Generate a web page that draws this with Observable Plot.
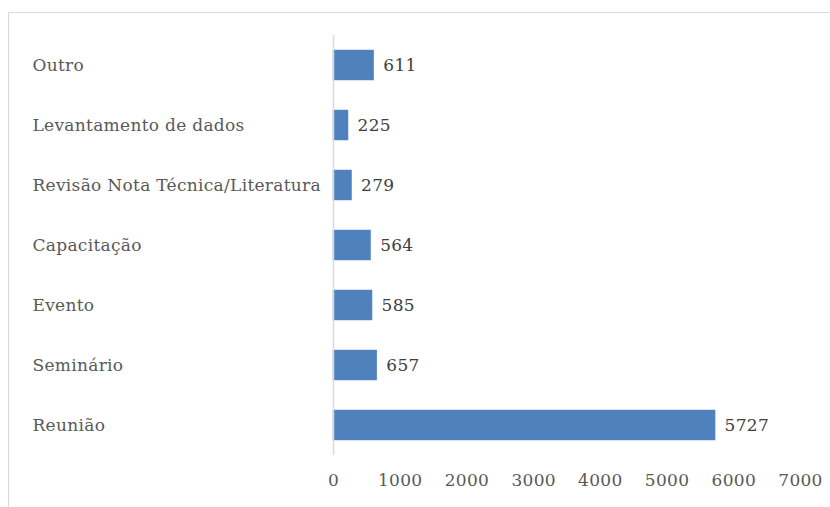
<!DOCTYPE html>
<html>
<head>
<meta charset="utf-8">
<script src="https://cdn.jsdelivr.net/npm/d3@7"></script>
<script src="https://cdn.jsdelivr.net/npm/@observablehq/plot@0.6"></script>
<style>
html, body { margin: 0; padding: 0; background: #fff; }
#wrap { position: relative; width: 830px; height: 507px; overflow: hidden; }
#frame { position: absolute; left: 8px; top: 12px; width: 830px; height: 520px; border: 1px solid #d9d9d9; box-sizing: border-box; }
#chart { position: absolute; left: 0; top: 0; }
#chart text { letter-spacing: 0.3px; }
</style>
</head>
<body>
<div id="wrap"><div id="frame"></div><div id="chart"></div></div>
<script>
const categories = ["Outro", "Levantamento de dados", "Revisão Nota Técnica/Literatura", "Capacitação", "Evento", "Seminário", "Reunião"];
const values = [611, 225, 279, 564, 585, 657, 5727];
const xTicks = [0, 1000, 2000, 3000, 4000, 5000, 6000, 7000];

const data = categories.map((c, i) => ({category: c, value: values[i]}));
const font = "'DejaVu Serif', serif";

const chart = Plot.plot({
  width: 830,
  height: 507,
  marginLeft: 333,
  marginRight: 30,
  marginTop: 35,
  marginBottom: 52,
  style: {fontFamily: font, fontSize: "17px", background: "transparent"},
  x: {domain: [0, 7000], ticks: xTicks},
  y: {domain: categories, paddingInner: 0.5, paddingOuter: 0.25},
  marks: [
    Plot.axisX({ticks: xTicks, tickFormat: d => String(d), tickSize: 0, tickPadding: 18, color: "#595959", fontSize: 17, label: null}),
    Plot.axisY({tickSize: 0, tickPadding: 301, textAnchor: "start", color: "#595959", fontSize: 17, label: null}),
    Plot.barX(data, {x: "value", y: "category", fill: "#4f81bd", stroke: "#5b8cc5", strokeWidth: 0.5}),
    Plot.ruleX([0], {stroke: "#d9d9d9", strokeWidth: 1.5}),
    Plot.text(data, {x: "value", y: "category", text: d => String(d.value), textAnchor: "start", dx: 9, fill: "#404040", fontSize: 17})
  ]
});
document.getElementById("chart").appendChild(chart);
</script>
</body>
</html>
